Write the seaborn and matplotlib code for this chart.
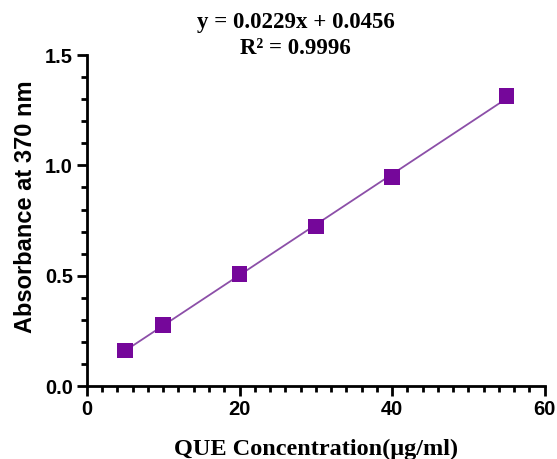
import matplotlib
matplotlib.use("Agg")
import matplotlib.pyplot as plt
from matplotlib.ticker import MultipleLocator, FormatStrFormatter
import seaborn as sns

# calibration data
conc = [5, 10, 20, 30, 40, 55]
absorb = [0.162, 0.277, 0.508, 0.722, 0.947, 1.315]
eq_text = "y = 0.0229x + 0.0456\nR\u00b2 = 0.9996"

sns.set_style("ticks")
plt.rcParams["font.family"] = ["Liberation Sans", "DejaVu Sans"]
plt.rcParams["text.color"] = "black"
plt.rcParams["axes.labelcolor"] = "black"
plt.rcParams["xtick.color"] = "black"
plt.rcParams["ytick.color"] = "black"

fig = plt.figure(figsize=(5.57, 4.59), dpi=100)
ax = fig.add_axes([0.156, 0.159, 0.822, 0.721])

sns.regplot(x=conc, y=absorb, ax=ax, ci=None, truncate=True, marker="s",
            scatter_kws={"s": 125, "color": "#75079a", "alpha": 1,
                         "edgecolor": "none", "zorder": 3},
            line_kws={"color": "#8c4fa8", "linewidth": 1.3, "zorder": 2})

ax.set_xlim(0, 60)
ax.set_ylim(0, 1.5)
ax.xaxis.set_major_locator(MultipleLocator(20))
ax.xaxis.set_minor_locator(MultipleLocator(2))
ax.yaxis.set_major_locator(MultipleLocator(0.5))
ax.yaxis.set_minor_locator(MultipleLocator(0.1))
ax.yaxis.set_major_formatter(FormatStrFormatter("%.1f"))

sns.despine(ax=ax)
for s in ["left", "bottom"]:
    ax.spines[s].set_linewidth(2)
    ax.spines[s].set_color("black")
ax.tick_params(which="major", length=7, width=2, labelsize=14.5,
               color="black", labelcolor="black", pad=3)
ax.tick_params(which="minor", length=4.5, width=2, color="black")
for lab in ax.get_xticklabels() + ax.get_yticklabels():
    lab.set_fontweight("bold")

ax.set_xlabel("QUE Concentration(\u03bcg/ml)", family=["Liberation Serif", "DejaVu Serif"],
              fontweight="bold", fontsize=17.5)
ax.xaxis.set_label_coords(0.5, -0.16)
ax.set_ylabel("Absorbance at 370 nm", fontsize=17, fontweight="bold")
ax.yaxis.set_label_coords(-0.11, 0.541)
fig.text(0.531, 0.923, eq_text, family=["Liberation Serif", "DejaVu Serif"],
         fontweight="bold", fontsize=16.5, linespacing=1.3,
         ha="center", va="center", multialignment="center")

fig.savefig("out.png", dpi=100)
